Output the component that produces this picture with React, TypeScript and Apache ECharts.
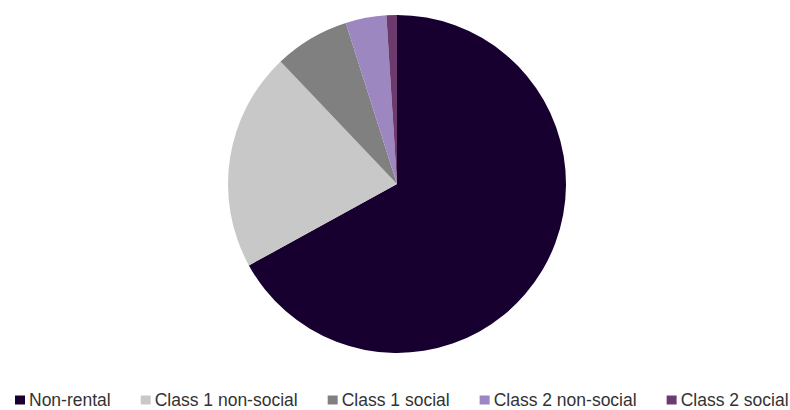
import React, { useEffect, useRef } from "react";
import * as echarts from "echarts";

const categories = ["Non-rental", "Class 1 non-social", "Class 1 social", "Class 2 non-social", "Class 2 social"];
const values = [67, 20.9, 7.2, 3.9, 1.0];
const colors = ["#17002f", "#c8c8c8", "#808080", "#9c87c0", "#6c3a6c"];

export default function App() {
  const ref = useRef<HTMLDivElement>(null);
  useEffect(() => {
    document.body.style.margin = "0";
    const chart = echarts.init(ref.current!, null, { renderer: "svg" });
    chart.setOption({
      animation: false,
      color: colors,
      legend: {
        data: categories,
        left: 15,
        top: 391,
        padding: 0,
        icon: "rect",
        itemWidth: 10,
        itemHeight: 9,
        itemGap: 30,
        textStyle: {
          fontFamily: "Liberation Sans, Arial",
          fontSize: 17.5,
          lineHeight: 16,
          color: "#333",
          padding: [0, 0, 0, -1],
        },
      },
      series: [
        {
          type: "pie",
          center: [397, 184],
          radius: 169,
          startAngle: 90,
          clockwise: true,
          label: { show: false },
          labelLine: { show: false },
          emphasis: { disabled: true },
          data: categories.map((name, i) => ({ name, value: values[i] })),
        },
      ],
    });
    return () => chart.dispose();
  }, []);
  return <div ref={ref} style={{ width: 790, height: 410, position: "absolute", left: 0, top: 0 }} />;
}
